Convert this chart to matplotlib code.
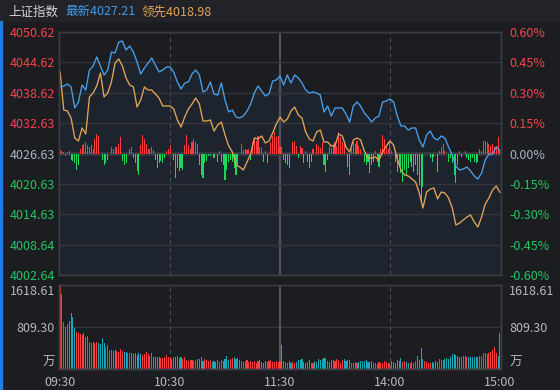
import numpy as np
import matplotlib
matplotlib.use("Agg")
import matplotlib.pyplot as plt
from matplotlib.patches import Rectangle

plt.rcParams['font.family'] = ['Noto Sans CJK SC', 'DejaVu Sans']

# ---- data -------------------------------------------------------------
prev_close = 4026.63
last_price = 4027.21
lead_price = 4018.98

price_ticks = [4050.62, 4044.62, 4038.62, 4032.63, 4026.63, 4020.63, 4014.63, 4008.64, 4002.64]
pct_labels = ['0.60%', '0.45%', '0.30%', '0.15%', '0.00%', '-0.15%', '-0.30%', '-0.45%', '-0.60%']
time_ticks = [0, 60, 120, 180, 240]
time_labels = ['09:30', '10:30', '11:30', '14:00', '15:00']
vol_max = 1618.61
vol_mid = 809.30

# index sampled every 2 minutes (0..240)
minutes = np.arange(0, 241, 2)
index_price = [
    4039.76, 4039.96, 4040.35, 4039.76, 4035.62, 4036.80, 4040.16, 4039.17, 4043.12, 4043.91,
    4045.69, 4043.91, 4042.13, 4043.12, 4046.67, 4046.48, 4048.65, 4048.84, 4047.07, 4047.86,
    4046.67, 4044.70, 4042.33, 4043.51, 4044.50, 4045.49, 4044.11, 4042.72, 4043.12, 4043.71,
    4043.71, 4042.72, 4040.75, 4039.37, 4040.55, 4040.75, 4042.33, 4043.12, 4042.13, 4038.77,
    4039.17, 4040.75, 4038.38, 4038.18, 4040.55, 4037.19, 4034.83, 4035.22, 4033.84, 4033.64,
    4034.04, 4035.02, 4036.41, 4038.58, 4039.96, 4038.97, 4037.98, 4038.38, 4040.95, 4041.14,
    4041.93, 4040.16, 4042.13, 4040.55, 4042.13, 4041.54, 4040.55, 4039.17, 4038.58, 4038.77,
    4038.58, 4038.18, 4034.83, 4036.01, 4034.04, 4035.62, 4035.62, 4035.62, 4034.43, 4032.85,
    4036.01, 4036.80, 4036.01, 4034.63, 4033.84, 4032.85, 4033.64, 4034.04, 4036.80, 4037.00,
    4037.39, 4036.80, 4034.04, 4032.06, 4032.06, 4031.27, 4031.67, 4031.67, 4029.30, 4027.91,
    4030.28, 4031.07, 4029.69, 4029.30, 4030.09, 4029.69, 4027.91, 4026.34, 4024.16, 4023.37,
    4023.57, 4023.97, 4023.18, 4022.19, 4021.60, 4022.78, 4025.35, 4026.53, 4026.53, 4027.91,
    4027.21,
]
lead_index = [
    4042.72, 4035.22, 4035.02, 4033.64, 4029.69, 4029.10, 4031.67, 4030.48, 4037.79, 4038.58,
    4039.96, 4042.53, 4037.79, 4038.58, 4040.75, 4044.50, 4045.29, 4043.91, 4041.54, 4040.16,
    4039.76, 4035.81, 4037.19, 4039.76, 4039.17, 4039.17, 4038.38, 4037.59, 4036.01, 4036.01,
    4036.01, 4035.42, 4033.25, 4031.86, 4033.84, 4035.42, 4036.41, 4037.59, 4036.41, 4033.05,
    4033.05, 4033.25, 4031.07, 4032.26, 4032.85, 4030.28, 4028.11, 4026.93, 4024.36, 4023.97,
    4023.37, 4024.95, 4026.53, 4029.69, 4029.49, 4030.09, 4028.70, 4029.10, 4030.68, 4032.46,
    4033.84, 4032.85, 4033.44, 4035.02, 4035.81, 4034.23, 4033.64, 4030.88, 4029.49, 4029.10,
    4030.88, 4031.27, 4028.90, 4028.90, 4028.11, 4028.11, 4030.48, 4030.09, 4027.91, 4026.93,
    4029.30, 4029.69, 4029.30, 4027.13, 4025.74, 4025.74, 4025.94, 4025.35, 4026.93, 4028.11,
    4029.10, 4028.31, 4025.55, 4023.37, 4022.39, 4022.19, 4021.60, 4021.00, 4018.83, 4015.87,
    4019.03, 4019.62, 4019.82, 4017.65, 4019.03, 4018.83, 4017.84, 4015.87, 4012.51, 4012.91,
    4013.50, 4014.09, 4014.49, 4013.11, 4012.12, 4014.09, 4016.66, 4017.84, 4019.42, 4020.21,
    4018.98,
]

# per-minute strength bars around the previous close (1 unit = 0.2 index points)
diff_bars = (
    [3, 2, 1, -1, 1, 2, -6, -7, -9, -16, -11]
    + [4, 8, 9, 11, 8, 6, 8, 4, 14, 19, 17]
    + [0, -6, -11, -9, -6, 0]
    + [6, 4, 6, 6, 9, 16, -7, -11, -9, 0, 4, 6]
    + [-4, -9, -17, -21, 8, 18, 14, 9, 4, 4, 6, 3]
    + [-6, -14, -9, -7, -9, -4, 2, 4, 8]
    + [0, -6, -24, -14, -17, -14, -16, 8, 18, 8, 4, 11, 14, 11, 9]
    + [-11, -21, -24, -9, -7, -2, -2]
    + [0, -4, 0, -8, 2, -8, -11, -26, -16, -8, -6, -8, -14, -21, -11, 0]
    + [9, 3, 4, 3, 4, -6, 11, 14, 12, 17, 6, 5]
    + [-8, 2, -9, 0, 11, 17, 21, 16, 17, 6]
    + [6, -6, -9, -11, -14, 0, 11, 12, 7, -4, 7, 5, -9, 2, -8, -14, -8, 4, 0, 9]
    + [7, 5, 11, -11, -18, -6, 7, 5, 9, 11, 7, 21, 16, 11, 9, 0, -13, -21, 5, 11]
    + [9, 12, 7, 4, 0, -8, -11, -8, -19, -11, -8, 2, -8, -13, 4, 18, 14, 7, 4, 11]
    + [2, 0, -8, -18, -13, -19, -28, -16, -21, -14, -8, -13, -18, -11, -21, -31, -48, -33, 0, 0]
    + [0, -4, -8, -3, 0, -18, 2, 6, 9, 2, 0, -8, -4, -9, -21, -29, -11, 2, -3, 0]
    + [2, -4, -6, -8, -4, -8, -9, -8, 4, 2, 12, 12, 11, 9, 7, 9, 6, 7, 16, 2]
)

# per-minute volume (万)
volume = [
    1618, 1445, 911, 815, 870, 930, 1073, 996, 784, 719,
    700, 674, 655, 687, 623, 636, 527, 507, 527, 507,
    527, 495, 482, 591, 495, 430, 462, 366, 366, 353,
    366, 353, 334, 379, 353, 334, 334, 315, 315, 315,
    289, 302, 270, 302, 289, 270, 289, 334, 289, 250,
    315, 225, 225, 225, 225, 206, 206, 225, 270, 225,
    225,
    190, 225, 240, 260, 210, 225, 190, 225, 170, 160,
    180, 175, 150, 170, 190, 200, 225, 160, 200, 180,
    150, 170, 140, 160, 130, 170, 140, 180, 150, 200,
    245, 180, 200, 210, 225, 190, 205, 180, 160, 130,
    150, 170, 140, 160, 130, 150, 120, 160, 170, 140,
    120, 150, 130, 160, 180, 140, 130, 150, 140, 160,
    460, 150, 130, 120, 160, 110, 130, 120, 140, 175,
    180, 186, 130, 120, 140, 173, 120, 110, 161, 130,
    186, 170, 190, 206, 206, 150, 130, 173, 180, 150,
    186, 173, 120, 173, 186, 160, 173, 180, 120, 110,
    130, 120, 140, 161, 150, 161, 173, 130, 140, 161,
    110, 120, 100, 130, 110, 120, 161, 130, 110, 120,
    161, 130, 120, 173, 150, 206, 140, 161, 130, 120,
    110, 130, 120, 150, 250, 180, 398, 190, 161, 130,
    120, 110, 130, 120, 161, 140, 186, 170, 173, 186,
    206, 186, 225, 289, 289, 270, 250, 225, 238, 260,
    250, 225, 238, 238, 225, 238, 225, 238, 250, 250,
    315, 302, 289, 315, 334, 366, 430, 300, 250, 700,
]

# ---- style ------------------------------------------------------------
BG = '#1c1d21'
HEADER = '#222328'
GRID = '#33353b'
FRAME = '#3b3d44'
RED = '#ff3b3b'
GREEN = '#1ed760'
TEAL = '#19a9b8'
BLUE = '#4aa0ec'
ORANGE = '#e2a456'
TXT_RED = '#f5444c'
TXT_GREEN = '#25c45f'
TXT_ZERO = '#a9b4c2'
TXT_GRAY = '#b6b8bc'

W, H = 560, 390
fig = plt.figure(figsize=(W / 100, H / 100), dpi=100, facecolor=BG)

# header strip and the blue edge on the left
fig.patches.append(Rectangle((0, 1 - 21 / H), 1, 21 / H, transform=fig.transFigure,
                             color=HEADER, zorder=0))
fig.patches.append(Rectangle((0, 0), 2 / W, 1 - 21 / H, transform=fig.transFigure,
                             color='#1f7fe0', zorder=1))
fig.text(8 / W, 1 - 12 / H, '上证指数', color='#d2d3d6', fontsize=9, va='center')
fig.text(65 / W, 1 - 12 / H, f'最新{last_price:.2f}', color='#3e9be9', fontsize=9, va='center')
fig.text(142 / W, 1 - 12 / H, f'领先{lead_price:.2f}', color=ORANGE, fontsize=9, va='center')

left, right = 59 / W, 501 / W
ax = fig.add_axes([left, 1 - 275 / H, right - left, 243 / H], facecolor=BG)
axv = fig.add_axes([left, 1 - 369 / H, right - left, 84 / H], facecolor=BG)

xlim = (-0.6, 240.6)

# ---- price panel ------------------------------------------------------
ax.set_xlim(*xlim)
ax.set_ylim(price_ticks[-1], price_ticks[0])

ax.fill_between(minutes, index_price, price_ticks[-1], color='#3f7fc8', alpha=0.08, lw=0, zorder=1)
ax.axhline(prev_close, color='#3a3d45', lw=2.6, zorder=1.5)

bars = np.array(diff_bars) * 0.2
bar_x = np.arange(len(bars))
ax.bar(bar_x, bars, bottom=prev_close, width=0.6,
       color=[RED if b > 0 else GREEN for b in bars], lw=0, zorder=2, antialiased=False)

ax.plot(minutes, lead_index, color=ORANGE, lw=0.95, zorder=3)
ax.plot(minutes, index_price, color=BLUE, lw=0.95, zorder=4)

ax.set_yticks(price_ticks, [f'{p:.2f}' for p in price_ticks])
ax.grid(axis='y', color=GRID, lw=1)
ax.set_xticks([])
ax.tick_params(axis='y', length=0, pad=3, labelsize=9)

axr = ax.twinx()
axr.set_ylim(ax.get_ylim())
axr.set_yticks(price_ticks, pct_labels)
axr.tick_params(axis='y', length=0, pad=6, labelsize=9)


def level_color(p):
    if p > prev_close + 0.01:
        return TXT_RED
    if p < prev_close - 0.01:
        return TXT_GREEN
    return TXT_ZERO


for lab, p in zip(ax.get_yticklabels(), price_ticks):
    lab.set_color(level_color(p))
for lab, p in zip(axr.get_yticklabels(), price_ticks):
    lab.set_color(level_color(p))

# ---- volume panel -----------------------------------------------------
axv.set_xlim(*xlim)
axv.set_ylim(0, vol_max)
vol_up = np.concatenate([[True], np.repeat(np.diff(index_price) >= 0, 2)])
axv.bar(np.arange(len(volume)), volume, width=0.6,
        color=[RED if u else TEAL for u in vol_up], lw=0, zorder=2, antialiased=False)
axv.axhline(vol_mid, color=GRID, lw=1, zorder=1)

axv.set_yticks([0, vol_mid, vol_max], ['万', f'{vol_mid:.2f}', f'{vol_max:.2f}'])
axv.tick_params(axis='y', length=0, pad=3, labelsize=9, labelcolor=TXT_GRAY)
axvr = axv.twinx()
axvr.set_ylim(axv.get_ylim())
axvr.set_yticks([0, vol_mid, vol_max], ['万', f'{vol_mid:.2f}', f'{vol_max:.2f}'])
axvr.tick_params(axis='y', length=0, pad=6, labelsize=9, labelcolor=TXT_GRAY)
for a in (axv, axvr):
    labs = a.get_yticklabels()
    labs[0].set_va('bottom')
    labs[2].set_va('top')

axv.set_xticks(time_ticks, time_labels)
axv.tick_params(axis='x', length=0, pad=5, labelsize=9, labelcolor=TXT_GRAY)

# ---- frames and time separators ----------------------------------------
for a in (ax, axv):
    a.axvline(60, color='#4a4d55', lw=0.8, ls=(0, (4, 3)), zorder=1.2)
    a.axvline(180, color='#4a4d55', lw=0.8, ls=(0, (4, 3)), zorder=1.2)
    a.axvline(120, color='#50535b', lw=1.6, zorder=1.2)
for a in (ax, axr, axv, axvr):
    for s in a.spines.values():
        s.set_color(FRAME)
        s.set_linewidth(1)

fig.savefig('out.png', dpi=100, facecolor=BG)
